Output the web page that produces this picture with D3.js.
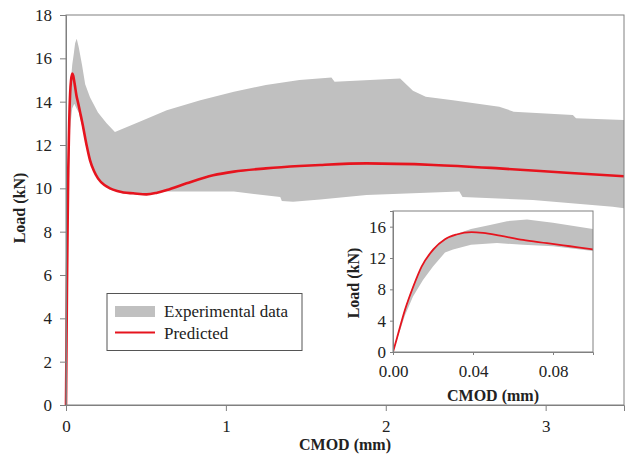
<!DOCTYPE html>
<html><head><meta charset="utf-8">
<script src="https://cdn.jsdelivr.net/npm/d3@7"></script>
<style>
body{margin:0;background:#fff}
svg{display:block}
text{font-family:"Liberation Serif","Times New Roman",serif;fill:#222}
</style>
</head><body>
<svg id="chart" width="625" height="461"></svg>
<script>
// Predicted curve (CMOD mm, Load kN)
const predX = [0, 0.002, 0.006, 0.0102, 0.0143, 0.0202, 0.026, 0.0318, 0.0393, 0.045, 0.0535, 0.065, 0.077, 0.0885, 0.1, 0.108, 0.13, 0.15, 0.175, 0.2, 0.24, 0.275, 0.32, 0.36, 0.42, 0.504, 0.57, 0.63, 0.754, 0.92, 1.05, 1.25, 1.46, 1.59, 1.88, 2.3, 2.71, 3.13, 3.5];
const predY = [0, 1.8, 5.4, 8.4, 10.9, 13.1, 14.4, 15.0, 15.3, 15.2, 14.85, 14.3, 13.9, 13.5, 13.1, 12.8, 11.95, 11.3, 10.8, 10.46, 10.15, 10.0, 9.88, 9.81, 9.77, 9.72, 9.8, 9.92, 10.23, 10.6, 10.77, 10.92, 11.03, 11.08, 11.15, 11.08, 10.92, 10.72, 10.55];

// Experimental envelope: upper edge
const expUpperX = [0, 0.006, 0.01, 0.015, 0.02, 0.026, 0.032, 0.039, 0.0485, 0.057, 0.067, 0.08, 0.1, 0.12, 0.15, 0.2, 0.254, 0.306, 0.46, 0.63, 0.84, 1.05, 1.25, 1.46, 1.66, 1.68, 2.09, 2.17, 2.25, 2.42, 2.71, 2.8, 3.17, 3.19, 3.5];
const expUpperY = [0, 5.6, 8.5, 11.2, 13.2, 14.5, 15.1, 15.7, 16.2, 16.7, 16.9, 16.5, 15.7, 14.8, 14.2, 13.5, 13.0, 12.6, 13.07, 13.6, 14.07, 14.46, 14.77, 15.0, 15.12, 14.92, 15.07, 14.5, 14.23, 14.07, 13.77, 13.54, 13.38, 13.23, 13.15];
// Experimental envelope: lower edge
const expLowerX = [0, 0.006, 0.01, 0.015, 0.02, 0.026, 0.03, 0.039, 0.052, 0.065, 0.08, 0.1, 0.13, 0.15, 0.175, 0.2, 0.275, 0.36, 0.5, 0.63, 0.754, 0.9, 1.05, 1.34, 1.35, 1.42, 1.59, 1.88, 2.46, 2.48, 2.92, 3.42, 3.5];
const expLowerY = [0, 4.7, 7.1, 9.2, 10.9, 12.7, 13.1, 13.7, 13.9, 13.7, 13.5, 12.9, 11.9, 11.25, 10.75, 10.4, 9.95, 9.75, 9.68, 9.85, 9.85, 9.85, 9.85, 9.6, 9.42, 9.38, 9.49, 9.69, 9.85, 9.6, 9.46, 9.15, 9.07];

const mainXTicks = [0, 1, 2, 3];
const mainYTicks = [0, 2, 4, 6, 8, 10, 12, 14, 16, 18];
const insetXTicks = [0, 0.04, 0.08];
const insetYTicks = [0, 4, 8, 12, 16];
const legendLabels = ["Experimental data", "Predicted"];

const GREY = "#c0c0c0", RED = "#e6141e", AXIS = "#808080";

const svg = d3.select("#chart");

function band(x, y) {
  const up = expUpperX.map((v, i) => [v, expUpperY[i]]);
  const lo = expLowerX.map((v, i) => [v, expLowerY[i]]).reverse();
  return d3.line().x(d => x(d[0])).y(d => y(d[1]))(up.concat(lo)) + "Z";
}
function predLine(x, y) {
  return d3.line().curve(d3.curveMonotoneX).x(d => x(d[0])).y(d => y(d[1]))(predX.map((v, i) => [v, predY[i]]));
}

// ---------- main chart ----------
const mx = d3.scaleLinear().domain([0, 3.49]).range([66, 624]);
const my = d3.scaleLinear().domain([0, 18]).range([405, 15]);

svg.append("clipPath").attr("id", "mainClip").append("rect")
  .attr("x", 60).attr("y", 10).attr("width", 564).attr("height", 400);

const mg = svg.append("g").attr("clip-path", "url(#mainClip)");
mg.append("path").attr("d", band(mx, my)).attr("fill", GREY).attr("stroke", "none");
mg.append("path").attr("d", predLine(mx, my)).attr("fill", "none").attr("stroke", RED)
  .attr("stroke-width", 2.6).attr("stroke-linejoin", "round");

// frame
svg.append("rect").attr("x", mx(0)).attr("y", my(18)).attr("width", mx(3.49) - mx(0)).attr("height", my(0) - my(18))
  .attr("fill", "none").attr("stroke", AXIS).attr("stroke-width", 1);

const xAxis = svg.append("g").attr("transform", `translate(0,${my(0)})`)
  .call(d3.axisBottom(mx).tickValues(mainXTicks).tickFormat(d3.format("d")).tickSize(6).tickPadding(9));
const yAxis = svg.append("g").attr("transform", `translate(${mx(0)},0)`)
  .call(d3.axisLeft(my).tickValues(mainYTicks).tickFormat(d3.format("d")).tickSize(6).tickPadding(8));
[xAxis, yAxis].forEach(a => {
  a.select(".domain").attr("stroke", AXIS);
  a.selectAll(".tick line").attr("stroke", AXIS);
  a.selectAll(".tick text").attr("font-size", 17).attr("font-family", "Liberation Serif").attr("fill", "#222");
});

svg.append("text").attr("x", 345).attr("y", 450).attr("text-anchor", "middle")
  .attr("font-size", 16).attr("font-weight", "bold").text("CMOD (mm)");
svg.append("text").attr("transform", "translate(25,208) rotate(-90)").attr("text-anchor", "middle")
  .attr("font-size", 16).attr("font-weight", "bold").text("Load (kN)");

// legend
const lg = svg.append("g");
lg.append("rect").attr("x", 107).attr("y", 293.5).attr("width", 195).attr("height", 57)
  .attr("fill", "#fff").attr("stroke", "#555").attr("stroke-width", 1);
lg.append("rect").attr("x", 115).attr("y", 306).attr("width", 40).attr("height", 11).attr("fill", GREY);
lg.append("line").attr("x1", 115).attr("x2", 155).attr("y1", 332.5).attr("y2", 332.5)
  .attr("stroke", RED).attr("stroke-width", 2.2);
lg.append("text").attr("x", 164).attr("y", 317).attr("font-size", 17).text(legendLabels[0]);
lg.append("text").attr("x", 164).attr("y", 338.5).attr("font-size", 17).text(legendLabels[1]);

// ---------- inset ----------
const ix = d3.scaleLinear().domain([0, 0.1]).range([393, 593]);
const iy = d3.scaleLinear().domain([0, 18]).range([352, 211]);

svg.append("rect").attr("x", ix(0)).attr("y", iy(18)).attr("width", ix(0.1) - ix(0)).attr("height", iy(0) - iy(18))
  .attr("fill", "#fff");
svg.append("clipPath").attr("id", "insetClip").append("rect")
  .attr("x", ix(0)).attr("y", iy(18)).attr("width", ix(0.1) - ix(0)).attr("height", iy(0) - iy(18));
const ig = svg.append("g").attr("clip-path", "url(#insetClip)");
ig.append("path").attr("d", band(ix, iy)).attr("fill", GREY);
ig.append("path").attr("d", predLine(ix, iy)).attr("fill", "none").attr("stroke", RED)
  .attr("stroke-width", 1.8).attr("stroke-linejoin", "round");
svg.append("rect").attr("x", ix(0)).attr("y", iy(18)).attr("width", ix(0.1) - ix(0)).attr("height", iy(0) - iy(18))
  .attr("fill", "none").attr("stroke", AXIS).attr("stroke-width", 1);

const ixAxis = svg.append("g").attr("transform", `translate(0,${iy(0)})`)
  .call(d3.axisBottom(ix).tickValues(insetXTicks).tickFormat(d3.format(".2f")).tickSize(3).tickPadding(10));
const iyAxis = svg.append("g").attr("transform", `translate(${ix(0)},0)`)
  .call(d3.axisLeft(iy).tickValues(insetYTicks).tickFormat(d3.format("d")).tickSize(3).tickPadding(4));
[ixAxis, iyAxis].forEach(a => {
  a.select(".domain").attr("stroke", AXIS);
  a.selectAll(".tick line").attr("stroke", AXIS);
  a.selectAll(".tick text").attr("font-size", 17).attr("font-family", "Liberation Serif").attr("fill", "#222");
});
svg.append("text").attr("x", 493).attr("y", 401).attr("text-anchor", "middle")
  .attr("font-size", 16).attr("font-weight", "bold").text("CMOD (mm)");
svg.append("text").attr("transform", "translate(359,283) rotate(-90)").attr("text-anchor", "middle")
  .attr("font-size", 16).attr("font-weight", "bold").text("Load (kN)");
</script>
</body></html>
